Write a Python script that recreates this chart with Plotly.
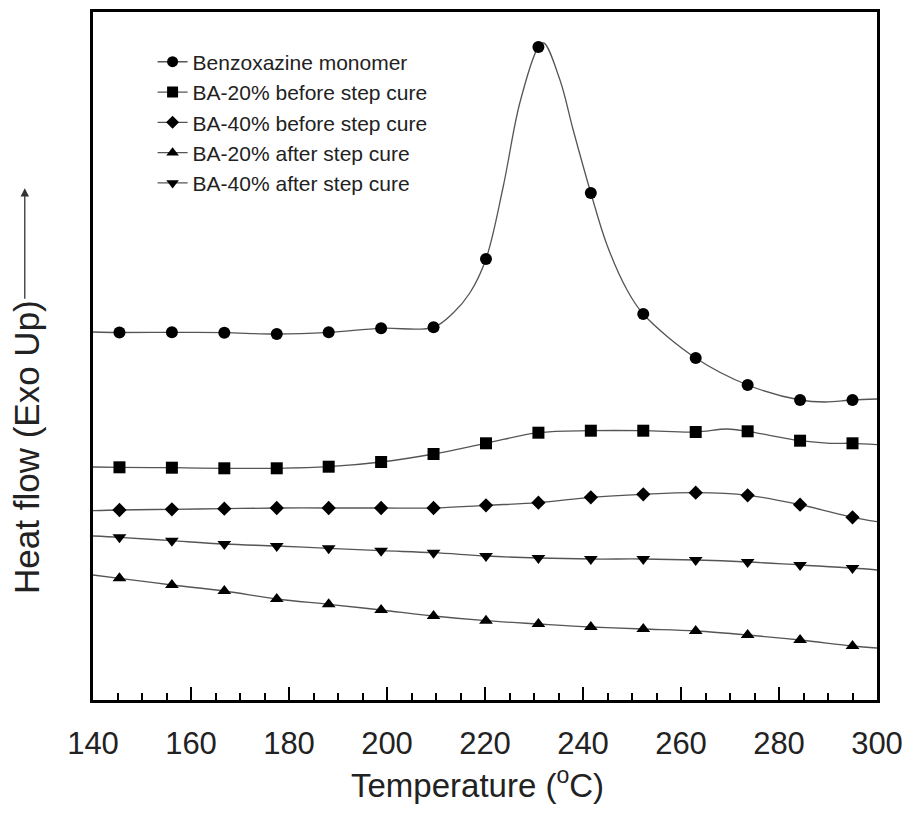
import plotly.graph_objects as go

# Temperatures (°C) at which the markers are drawn
temps = [145.4, 156.1, 166.8, 177.5, 188.1, 198.8, 209.5, 220.2, 230.9,
         241.6, 252.3, 263.0, 273.6, 284.3, 295.0]

# Heat flow (arbitrary units, Exo up) at the marker temperatures
monomer = [367.5, 367.7, 367.3, 366.0, 367.7, 371.7, 372.7, 441.0, 653.0,
           507.0, 386.0, 342.0, 315.0, 300.0, 300.0]
ba20_before = [232.7, 232.3, 231.7, 231.7, 233.3, 238.0, 246.0, 256.7, 267.3,
               269.3, 269.3, 268.0, 268.7, 259.3, 256.7]
ba40_before = [190.0, 190.7, 191.3, 192.0, 192.0, 192.0, 192.0, 194.7, 197.3,
               202.7, 205.7, 207.3, 204.7, 195.3, 182.7]
ba20_after = [121.7, 115.0, 109.0, 101.0, 95.7, 90.0, 84.0, 79.3, 76.0,
              73.0, 71.0, 69.0, 65.0, 60.0, 54.0]
ba40_after = [162.7, 159.3, 156.0, 154.0, 151.7, 149.3, 147.3, 144.0, 142.0,
              141.0, 141.0, 140.0, 138.0, 135.0, 132.0]

# Additional points (between markers)
monomer_extra_t = [140.0, 213.5, 216.9, 223.7, 227.1, 232.0, 235.3, 238.0, 244.9, 249.0, 289.4, 300.0]
monomer_extra_v = [368.0, 387.0, 407.0, 513.0, 597.0, 657.0, 620.0, 570.0, 455.0, 410.0, 298.0, 301.0]
ba20_before_extra_t = [140.0, 269.4, 290.4, 300.0]
ba20_before_extra_v = [233.0, 271.0, 256.7, 255.3]
ba40_before_extra_t = [140.0, 300.0]
ba40_before_extra_v = [189.3, 178.3]
ba20_after_extra_t = [140.0, 300.0]
ba20_after_extra_v = [125.0, 52.0]
ba40_after_extra_t = [140.0, 300.0]
ba40_after_extra_v = [164.0, 130.0]

names = ["Benzoxazine monomer", "BA-20% before step cure", "BA-40% before step cure",
         "BA-20% after step cure", "BA-40% after step cure"]
symbols = ["circle", "square", "diamond", "triangle-up", "triangle-down"]
sizes = [12, 12, 11, 12, 12]

series = [
    (monomer, monomer_extra_t, monomer_extra_v),
    (ba20_before, ba20_before_extra_t, ba20_before_extra_v),
    (ba40_before, ba40_before_extra_t, ba40_before_extra_v),
    (ba20_after, ba20_after_extra_t, ba20_after_extra_v),
    (ba40_after, ba40_after_extra_t, ba40_after_extra_v),
]

LINE_COLOR = "#555555"
FONT = "Liberation Sans, Arial, sans-serif"
TEXT = "#222222"

fig = go.Figure()
for (vals, et, ev), name, sym, sz in zip(series, names, symbols, sizes):
    pts = sorted(list(zip(temps, vals)) + list(zip(et, ev)))
    fig.add_trace(go.Scatter(
        x=[p[0] for p in pts], y=[p[1] for p in pts], mode="lines",
        line=dict(color=LINE_COLOR, width=1.3, shape="spline", smoothing=1.0),
        showlegend=False, hoverinfo="skip"))
    fig.add_trace(go.Scatter(
        x=temps, y=vals, mode="markers",
        marker=dict(symbol=sym, size=sz, color="black"),
        showlegend=False, name=name))
    fig.add_trace(go.Scatter(
        x=[None], y=[None], mode="lines+markers", name=name,
        line=dict(color=LINE_COLOR, width=1.3),
        marker=dict(symbol=sym, size=sz - 1, color="black")))

# The page body adds an 8px offset, so the figure is 8px smaller and margins compensate
fig.update_layout(
    width=902, height=816,
    margin=dict(l=85, r=33, t=4, b=124, autoexpand=False),
    paper_bgcolor="white", plot_bgcolor="white",
    font=dict(family=FONT, color=TEXT),
    showlegend=True,
    legend=dict(x=0.076, y=0.957, xanchor="left", yanchor="top",
                bgcolor="rgba(0,0,0,0)", font=dict(size=21, color=TEXT),
                tracegroupgap=0, itemwidth=30),
    xaxis=dict(range=[140, 300], tickmode="linear", tick0=140, dtick=20,
               ticks="inside", ticklen=13, tickwidth=2, tickcolor="black",
               minor=dict(dtick=5, ticks="inside", ticklen=7, tickwidth=2, tickcolor="black"),
               showgrid=False, zeroline=False,
               showline=True, linewidth=2.5, linecolor="black", mirror=True,
               tickfont=dict(size=31, color=TEXT), ticklabelstandoff=14,
               ticklabeloverflow="allow"),
    yaxis=dict(range=[0, 688], showticklabels=False, ticks="", showgrid=False,
               zeroline=False, showline=True, linewidth=2.5, linecolor="black", mirror=True),
    annotations=[
        dict(text="Temperature (<sup>o</sup>C)", xref="paper", yref="paper",
             x=0.49, y=-0.12, xanchor="center", yanchor="middle", showarrow=False,
             font=dict(size=33, color=TEXT)),
        dict(text="Heat flow (Exo Up)", xref="paper", yref="paper",
             x=-0.084, y=0.368, xanchor="center", yanchor="middle", showarrow=False,
             textangle=-90, font=dict(size=35, color=TEXT)),
        dict(text="", xref="paper", yref="paper", x=-0.087, y=0.744,
             ax=0, ay=112, axref="pixel", ayref="pixel", showarrow=True,
             arrowhead=2, arrowsize=1.3, arrowwidth=1.3, arrowcolor="#333333"),
    ],
)

fig.write_html("out.html")
